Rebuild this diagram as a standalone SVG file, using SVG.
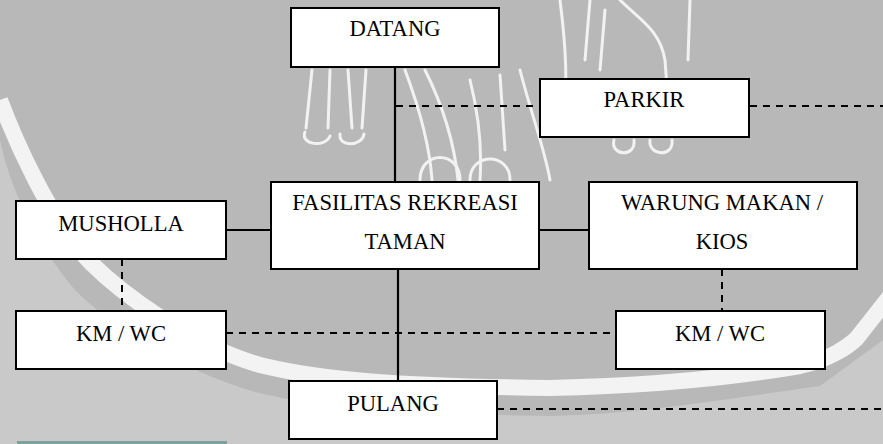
<svg xmlns="http://www.w3.org/2000/svg" width="883" height="444" viewBox="0 0 883 444">
  <style>
    .box { fill: #ffffff; stroke: #000000; stroke-width: 2; }
    .lbl { font-family: "Liberation Serif", "Times New Roman", serif; font-size: 22.6px; fill: #000000; text-anchor: middle; }
    .solid { stroke: #000000; stroke-width: 2.2; fill: none; }
    .dash { stroke: #000000; stroke-width: 2; stroke-dasharray: 7 6; fill: none; }
    .fig { stroke: #f2f2f2; stroke-width: 3; fill: none; stroke-linecap: round; stroke-linejoin: round; }
  </style>

  <!-- backdrop: grey seal with a pale ring -->
  <g id="backdrop">
    <rect x="0" y="0" width="883" height="444" fill="#b8b8b8"/>
    <path d="M0,140 C10,190 40,250 75,290 C110,325 180,370 255,392 C320,408 400,414 550,416 C640,414 720,400 820,386 L883,340 L883,444 L0,444 Z" fill="#c9c9c9"/>
    <path d="M0,100 C15,140 50,220 90,262 C120,292 190,345 260,365 C320,380 400,386 550,388 C640,386 730,378 800,366 C830,360 850,345 857,338 L890,296" fill="none" stroke="#f3f3f3" stroke-width="16"/>
    <!-- figure outlines of the seal -->
    <path class="fig" d="M312,70 L306,128 M330,70 L328,128 M348,70 L352,128 M366,70 L362,128"/>
    <path class="fig" d="M305,132 C300,145 325,148 330,136 M340,134 C338,147 362,147 364,134"/>
    <path class="fig" d="M405,70 C420,110 430,150 432,180 M425,70 C445,110 455,150 458,180 M470,80 C480,120 482,150 480,180 M500,75 L505,150 M520,70 C530,110 545,150 550,180"/>
    <path class="fig" d="M420,180 C420,150 460,150 460,180 M470,180 C470,152 510,152 510,180"/>
    <path class="fig" d="M560,0 C565,40 570,90 560,130 M590,0 L585,60 M605,10 L600,70 M620,0 C640,20 660,30 665,60 L670,130 M690,0 L688,60"/>
    <path class="fig" d="M614,140 C610,156 636,158 634,140 M650,140 C648,156 674,158 672,140"/>
    <rect x="17" y="441" width="210" height="3" fill="#7fa19e"/>
  </g>

  <!-- connectors -->
  <g id="connectors">
    <line class="solid" x1="395" y1="67" x2="395" y2="182"/>
    <line class="dash" x1="396" y1="106" x2="540" y2="106"/>
    <line class="dash" x1="750" y1="106" x2="883" y2="106"/>
    <line class="solid" x1="226" y1="230" x2="271" y2="230"/>
    <line class="solid" x1="539" y1="230" x2="589" y2="230"/>
    <line class="dash" x1="122" y1="259" x2="122" y2="311"/>
    <line class="dash" x1="722" y1="269" x2="722" y2="311"/>
    <line class="dash" x1="226" y1="333" x2="616" y2="333"/>
    <line class="solid" x1="398" y1="269" x2="398" y2="381"/>
    <line class="dash" x1="497" y1="409" x2="883" y2="409"/>
  </g>

  <g id="datang">
    <rect class="box" x="291" y="8" width="208" height="59"/>
    <text class="lbl" x="395" y="36">DATANG</text>
  </g>
  <g id="parkir">
    <rect class="box" x="540" y="79" width="209" height="58"/>
    <text class="lbl" x="644" y="107">PARKIR</text>
  </g>
  <g id="fasilitas">
    <rect class="box" x="271" y="182" width="268" height="87"/>
    <text class="lbl" x="405" y="210">FASILITAS REKREASI</text>
    <text class="lbl" x="405" y="249">TAMAN</text>
  </g>
  <g id="musholla">
    <rect class="box" x="16" y="201" width="210" height="58"/>
    <text class="lbl" x="121" y="231">MUSHOLLA</text>
  </g>
  <g id="warung">
    <rect class="box" x="589" y="182" width="268" height="87"/>
    <text class="lbl" x="722" y="210">WARUNG MAKAN /</text>
    <text class="lbl" x="722" y="249">KIOS</text>
  </g>
  <g id="kmwc-left">
    <rect class="box" x="16" y="311" width="210" height="58"/>
    <text class="lbl" x="121" y="341">KM / WC</text>
  </g>
  <g id="kmwc-right">
    <rect class="box" x="616" y="311" width="209" height="58"/>
    <text class="lbl" x="720" y="341">KM / WC</text>
  </g>
  <g id="pulang">
    <rect class="box" x="289" y="381" width="208" height="58"/>
    <text class="lbl" x="393" y="411">PULANG</text>
  </g>
</svg>
